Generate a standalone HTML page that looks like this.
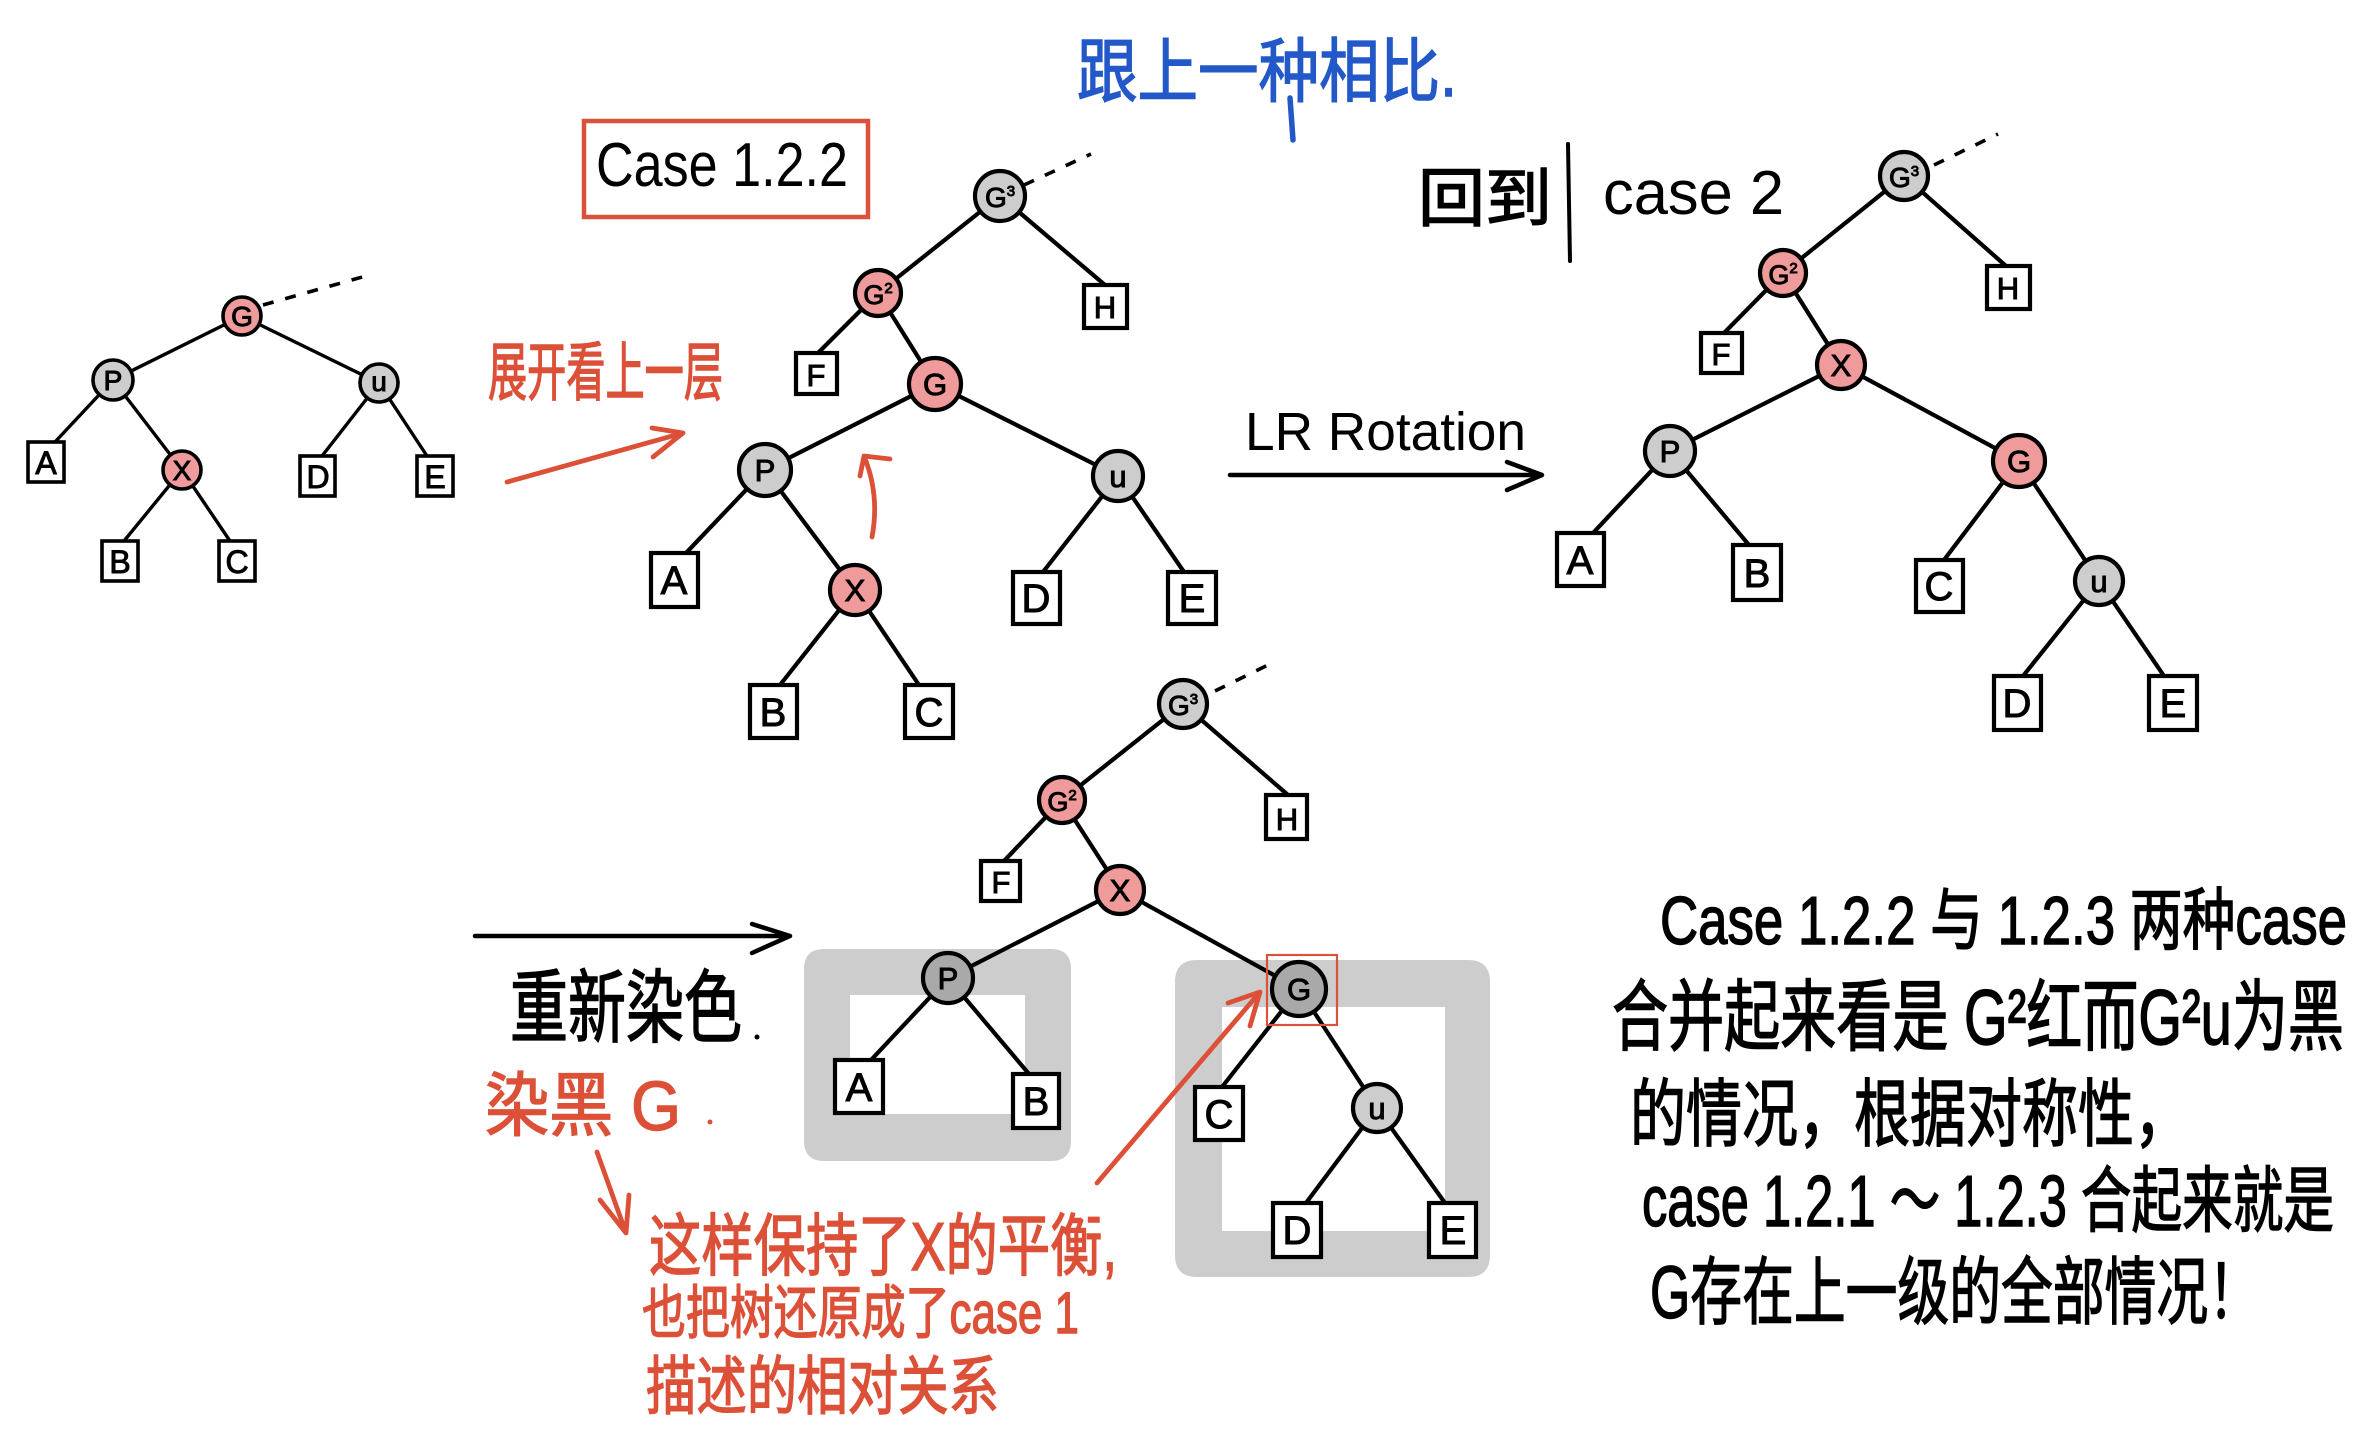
<!DOCTYPE html>
<html><head><meta charset="utf-8"><style>
html,body{margin:0;padding:0;background:#fff;}
svg{display:block;}
.l{stroke:#000;stroke-width:4.2;fill:none;stroke-linecap:round;}
.b{fill:#fff;stroke:#000;stroke-width:4.2;}
.r{fill:#f09b9b;stroke:#000;stroke-width:4.2;}
.g{fill:#cdcdcd;stroke:#000;stroke-width:4.2;}
.dg{fill:#a9a9a9;stroke:#000;stroke-width:4.2;}
.d{stroke:#000;stroke-width:3.6;stroke-dasharray:11 12;fill:none;}
.n{font-family:"Liberation Sans",sans-serif;font-size:31px;text-anchor:middle;fill:#000;stroke:#000;stroke-width:1;}
.bx{font-family:"Liberation Sans",sans-serif;font-size:40px;text-anchor:middle;fill:#000;stroke:#000;stroke-width:1;}
.cj{font-family:"Liberation Sans","Noto Sans CJK SC",sans-serif;font-weight:normal;stroke-width:1.4;}
.ra{stroke:#dc5038;stroke-width:4.8;fill:none;stroke-linecap:round;stroke-linejoin:round;}
.ka{stroke:#000;stroke-width:4.5;fill:none;stroke-linecap:round;stroke-linejoin:round;}
</style></head><body>
<svg width="2378" height="1440" viewBox="0 0 2378 1440" xmlns="http://www.w3.org/2000/svg">

<!-- ===== Tree 1 (left small) ===== -->
<g>
<line class="d" x1="263" y1="305" x2="373" y2="274"/>
<path class="l" style="stroke-width:3.4" d="M242,316L113,380 M242,316L379,383 M113,380L55,442 M113,380L182,470 M182,470L124,541 M182,470L230,541 M379,383L322,456 M379,383L427,456"/>
<rect class="b" style="stroke-width:3.6" x="28" y="442" width="36" height="40"/>
<rect class="b" style="stroke-width:3.6" x="300" y="456" width="35" height="40"/>
<rect class="b" style="stroke-width:3.6" x="417" y="456" width="36" height="40"/>
<rect class="b" style="stroke-width:3.6" x="102" y="541" width="36" height="40"/>
<rect class="b" style="stroke-width:3.6" x="219" y="541" width="36" height="40"/>
<circle class="r" style="stroke-width:3.6" cx="242" cy="316" r="19"/>
<circle class="g" style="stroke-width:3.6" cx="113" cy="380" r="20"/>
<circle class="g" style="stroke-width:3.6" cx="379" cy="383" r="19"/>
<circle class="r" style="stroke-width:3.6" cx="182" cy="470" r="19"/>
<g class="n" style="font-size:28px">
<text x="242" y="326">G</text><text x="113" y="390">P</text><text x="379" y="391">u</text><text x="182" y="480">X</text>
</g>
<g class="bx" style="font-size:32px">
<text x="46" y="474">A</text><text x="318" y="488">D</text><text x="435" y="488">E</text><text x="120" y="573">B</text><text x="237" y="573">C</text>
</g>
</g>

<!-- ===== Case 1.2.2 box ===== -->
<rect x="584" y="121" width="284" height="96" fill="none" stroke="#d9533c" stroke-width="4.5"/>
<text x="596" y="186" font-family="Liberation Sans,sans-serif" font-size="62" textLength="252" lengthAdjust="spacingAndGlyphs">Case 1.2.2</text>

<!-- blue text -->
<text class="cj" x="1077" y="96" font-size="70" fill="#2358c8" stroke="#2358c8" textLength="380" lengthAdjust="spacingAndGlyphs">跟上一种相比.</text>
<line x1="1290" y1="98" x2="1293" y2="140" stroke="#2358c8" stroke-width="5.5" stroke-linecap="round"/>

<!-- 展开看上一层 -->
<text class="cj" x="488" y="395" font-size="64" fill="#dc5038" stroke="#dc5038" textLength="235" lengthAdjust="spacingAndGlyphs">展开看上一层</text>
<path class="ra" d="M507,482 L683,433 M652,428 L683,433 L653,457"/>

<!-- ===== Tree 2 ===== -->
<g>
<line class="d" x1="1024" y1="185" x2="1091" y2="154"/>
<path class="l" d="M1000,196L878,293 M1000,196L1105,285 M878,293L818,353 M878,293L935,384 M935,384L765,470 M935,384L1118,476 M765,470L686,553 M765,470L855,590 M855,590L780,685 M855,590L919,685 M1118,476L1043,572 M1118,476L1184,572"/>
<rect class="b" x="1084" y="285" width="43" height="43"/>
<rect class="b" x="796" y="353" width="41" height="41"/>
<rect class="b" x="651" y="553" width="47" height="54"/>
<rect class="b" x="1013" y="572" width="47" height="52"/>
<rect class="b" x="1168" y="572" width="48" height="52"/>
<rect class="b" x="750" y="685" width="47" height="53"/>
<rect class="b" x="905" y="685" width="48" height="53"/>
<circle class="g" cx="1000" cy="196" r="25"/>
<circle class="r" cx="878" cy="293" r="23"/>
<circle class="r" cx="935" cy="384" r="26"/>
<circle class="g" cx="765" cy="470" r="26"/>
<circle class="g" cx="1118" cy="476" r="25"/>
<circle class="r" cx="855" cy="590" r="25"/>
<g class="n">
<text x="1000" y="207" style="font-size:28px">G<tspan font-size="15" dy="-11">3</tspan></text>
<text x="878" y="304" style="font-size:27px">G<tspan font-size="15" dy="-11">2</tspan></text>
<text x="935" y="395">G</text><text x="765" y="481">P</text><text x="1118" y="487">u</text><text x="855" y="601">X</text>
</g>
<g class="bx">
<text x="1105" y="318" style="font-size:31px">H</text><text x="816" y="386" style="font-size:31px">F</text>
<text x="674" y="594">A</text><text x="1036" y="612">D</text><text x="1192" y="612">E</text>
<text x="773" y="726">B</text><text x="929" y="726">C</text>
</g>
</g>
<!-- curved red arrow -->
<path class="ra" d="M872,537 Q880,495 864,456 M860,476 L864,456 L890,459"/>

<!-- LR Rotation -->
<text x="1245" y="450" font-family="Liberation Sans,sans-serif" font-size="54" textLength="281" lengthAdjust="spacingAndGlyphs">LR Rotation</text>
<path class="ka" d="M1230,475 L1542,475 M1507,462 L1542,475 L1507,490"/>

<!-- 回到 case 2 -->
<text class="cj" x="1418" y="221" font-size="64" fill="#000" stroke="#000" textLength="134" lengthAdjust="spacingAndGlyphs">回到</text>
<line x1="1568" y1="144" x2="1570" y2="261" stroke="#000" stroke-width="4" stroke-linecap="round"/>
<text x="1603" y="214" font-family="Liberation Sans,sans-serif" font-size="62" textLength="181" lengthAdjust="spacingAndGlyphs">case 2</text>

<!-- ===== Tree 3 ===== -->
<g>
<line class="d" x1="1934" y1="165" x2="1998" y2="134"/>
<path class="l" d="M1904,176L1783,273 M1904,176L2006,266 M1783,273L1724,333 M1783,273L1841,365 M1841,365L1670,451 M1841,365L2019,461 M1670,451L1593,533 M1670,451L1749,545 M2019,461L1944,560 M2019,461L2099,581 M2099,581L2023,676 M2099,581L2164,676"/>
<rect class="b" x="1987" y="266" width="43" height="43"/>
<rect class="b" x="1701" y="333" width="41" height="40"/>
<rect class="b" x="1557" y="533" width="47" height="53"/>
<rect class="b" x="1733" y="545" width="48" height="55"/>
<rect class="b" x="1916" y="560" width="47" height="52"/>
<rect class="b" x="1994" y="676" width="47" height="54"/>
<rect class="b" x="2149" y="676" width="48" height="54"/>
<circle class="g" cx="1904" cy="176" r="24"/>
<circle class="r" cx="1783" cy="273" r="23"/>
<circle class="r" cx="1841" cy="365" r="24"/>
<circle class="g" cx="1670" cy="451" r="25"/>
<circle class="r" cx="2019" cy="461" r="26"/>
<circle class="g" cx="2099" cy="581" r="24"/>
<g class="n">
<text x="1904" y="187" style="font-size:28px">G<tspan font-size="15" dy="-11">3</tspan></text>
<text x="1783" y="284" style="font-size:27px">G<tspan font-size="15" dy="-11">2</tspan></text>
<text x="1841" y="376">X</text><text x="1670" y="462">P</text><text x="2019" y="472">G</text><text x="2099" y="592">u</text>
</g>
<g class="bx">
<text x="2008" y="299" style="font-size:31px">H</text><text x="1721" y="365" style="font-size:31px">F</text>
<text x="1580" y="574">A</text><text x="1757" y="587">B</text><text x="1939" y="600">C</text>
<text x="2017" y="717">D</text><text x="2173" y="717">E</text>
</g>
</g>

<!-- ===== Tree 4 (bottom) ===== -->
<path fill="#cdcdcd" fill-rule="evenodd" d="M824,949 H1051 Q1071,949 1071,969 V1141 Q1071,1161 1051,1161 H824 Q804,1161 804,1141 V969 Q804,949 824,949 Z M850,995 V1114 H1025 V995 Z"/>
<path fill="#cdcdcd" fill-rule="evenodd" d="M1197,960 H1468 Q1490,960 1490,982 V1255 Q1490,1277 1468,1277 H1197 Q1175,1277 1175,1255 V982 Q1175,960 1197,960 Z M1222,1007 V1231 H1445 V1007 Z"/>
<g>
<line class="d" x1="1215" y1="691" x2="1274" y2="662"/>
<path class="l" d="M1183,704L1062,800 M1183,704L1288,795 M1062,800L1004,861 M1062,800L1120,890 M1120,890L948,978 M1120,890L1299,989 M948,978L871,1060 M948,978L1029,1074 M1299,989L1222,1087 M1299,989L1377,1108 M1377,1108L1306,1203 M1377,1108L1445,1203"/>
<rect class="b" x="1266" y="795" width="41" height="44"/>
<rect class="b" x="981" y="861" width="39" height="40"/>
<rect class="b" x="835" y="1060" width="48" height="53"/>
<rect class="b" x="1013" y="1074" width="46" height="54"/>
<rect class="b" x="1195" y="1087" width="48" height="53"/>
<rect class="b" x="1273" y="1203" width="48" height="54"/>
<rect class="b" x="1429" y="1203" width="47" height="54"/>
<circle class="g" cx="1183" cy="704" r="24"/>
<circle class="r" cx="1062" cy="800" r="23"/>
<circle class="r" cx="1120" cy="890" r="24"/>
<circle class="dg" cx="948" cy="978" r="25"/>
<circle class="dg" cx="1299" cy="989" r="27"/>
<circle class="g" cx="1377" cy="1108" r="24"/>
<g class="n">
<text x="1183" y="715" style="font-size:28px">G<tspan font-size="15" dy="-11">3</tspan></text>
<text x="1062" y="811" style="font-size:27px">G<tspan font-size="15" dy="-11">2</tspan></text>
<text x="1120" y="901">X</text><text x="948" y="989">P</text><text x="1299" y="1000">G</text><text x="1377" y="1119">u</text>
</g>
<g class="bx">
<text x="1287" y="830" style="font-size:31px">H</text><text x="1001" y="893" style="font-size:31px">F</text>
<text x="859" y="1101">A</text><text x="1036" y="1115">B</text><text x="1219" y="1128">C</text>
<text x="1297" y="1244">D</text><text x="1453" y="1244">E</text>
</g>
</g>
<rect x="1267" y="955" width="70" height="70" fill="none" stroke="#d9533c" stroke-width="2.2"/>

<!-- 重新染色 arrow + text -->
<path class="ka" d="M475,936 L790,936 M752,924 L790,936 L752,953"/>
<text class="cj" x="510" y="1036" font-size="80" fill="#000" stroke="#000" textLength="232" lengthAdjust="spacingAndGlyphs">重新染色</text>
<circle cx="757" cy="1037" r="2.5" fill="#000"/>

<!-- 染黑 G -->
<text class="cj" x="485" y="1130" font-size="70" fill="#dc5038" stroke="#dc5038" textLength="196" lengthAdjust="spacingAndGlyphs">染黑 G</text>
<circle cx="710" cy="1122" r="2.5" fill="#dc5038"/>
<path class="ra" d="M597,1152 L626,1233 M600,1200 L626,1233 L629,1195"/>

<!-- long red arrow -->
<path class="ra" d="M1097,1183 L1260,992 M1228,1003 L1260,992 L1250,1026"/>

<!-- red explanation -->
<g class="cj" fill="#dc5038" stroke="#dc5038">
<text x="649" y="1270" font-size="68" textLength="468" lengthAdjust="spacingAndGlyphs">这样保持了X的平衡,</text>
<text x="642" y="1333" font-size="58" textLength="437" lengthAdjust="spacingAndGlyphs">也把树还原成了case 1</text>
<text x="646" y="1409" font-size="64" textLength="353" lengthAdjust="spacingAndGlyphs">描述的相对关系</text>
</g>

<!-- right black text block -->
<g class="cj" fill="#000" stroke="#000">
<text x="1660" y="944" font-size="68" textLength="687" lengthAdjust="spacingAndGlyphs">Case 1.2.2 与 1.2.3 两种case</text>
<text x="1612" y="1044" font-size="78" textLength="732" lengthAdjust="spacingAndGlyphs">合并起来看是 G²红而G²u为黑</text>
<text x="1630" y="1140" font-size="74" textLength="560" lengthAdjust="spacingAndGlyphs">的情况，根据对称性，</text>
<text x="1642" y="1226" font-size="72" textLength="692" lengthAdjust="spacingAndGlyphs">case 1.2.1 ～ 1.2.3 合起来就是</text>
<text x="1650" y="1318" font-size="74" textLength="610" lengthAdjust="spacingAndGlyphs">G存在上一级的全部情况！</text>
</g>

</svg>
</body></html>
